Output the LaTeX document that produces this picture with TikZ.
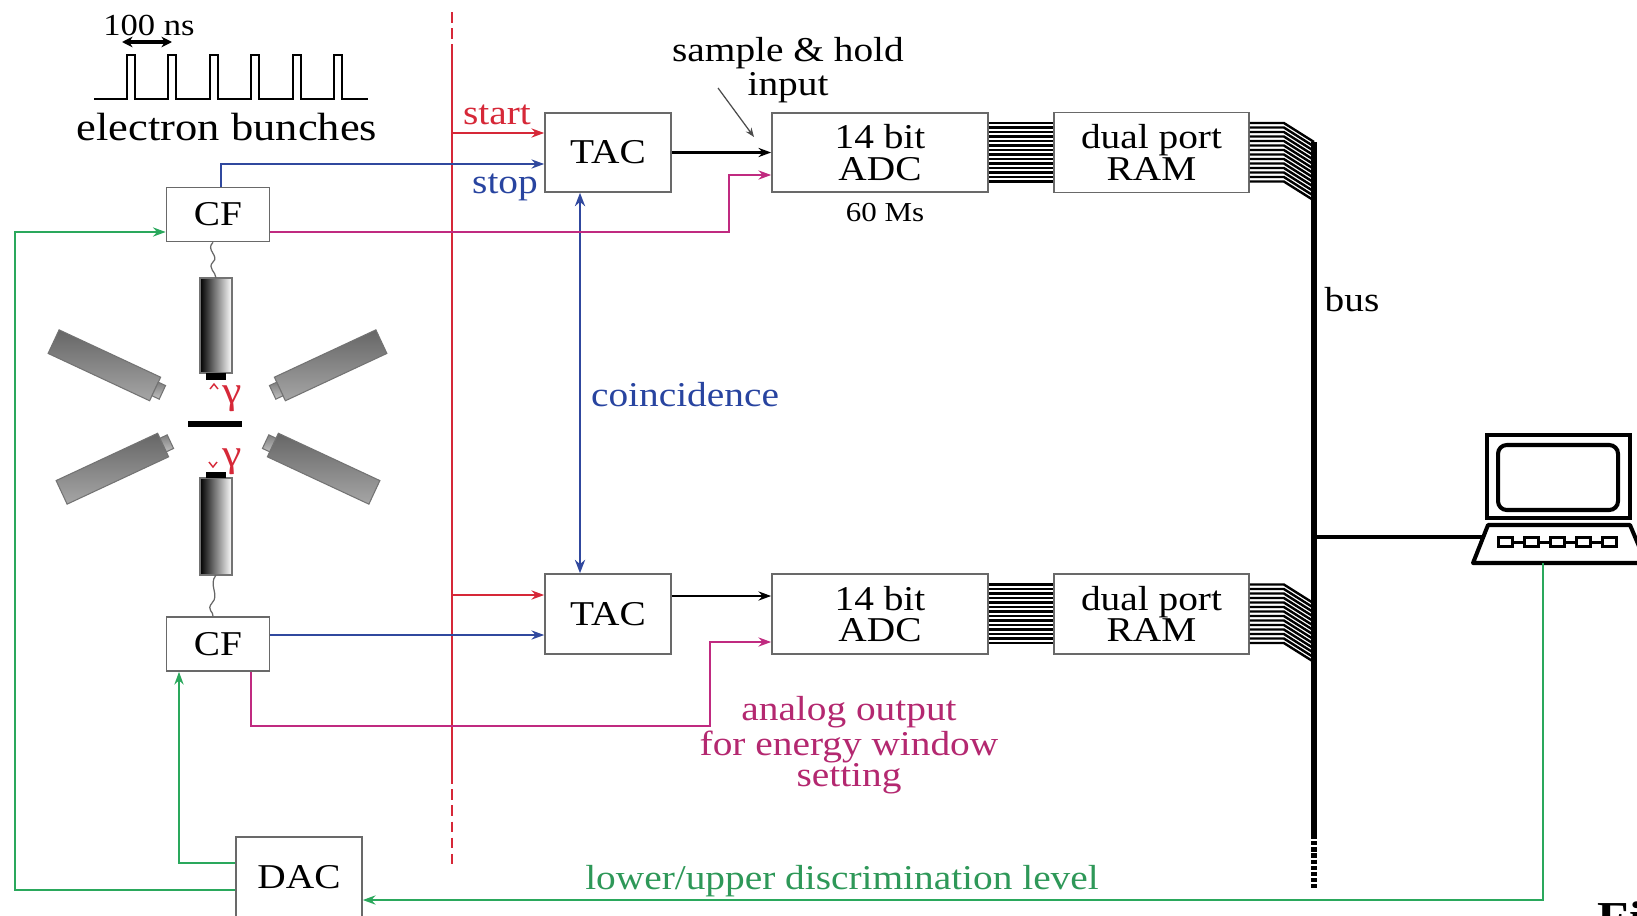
\documentclass[tikz,border=0pt]{standalone}
\usepackage{fontspec}
\setmainfont{Liberation Serif}[FakeStretch=1.13]
\usetikzlibrary{arrows.meta}

\definecolor{sigred}{RGB}{214,40,56}
\definecolor{sigblue}{RGB}{48,72,158}
\definecolor{sigmag}{RGB}{192,42,128}
\definecolor{siggreen}{RGB}{42,168,92}
\definecolor{boxgray}{RGB}{105,105,105}
\definecolor{txtblue}{RGB}{40,68,160}
\definecolor{txtmag}{RGB}{180,40,112}
\definecolor{txtgreen}{RGB}{46,152,88}

\tikzset{
  angdet/.pic={
    \shade[top color=black!60, bottom color=black!35, draw=black!55, line width=0.3pt]
      (-60,-13) rectangle (52,13);
    \shade[top color=black!50, bottom color=black!25, draw=black!55, line width=0.3pt]
      (52,-7.5) rectangle (60,7.5);
  }
}

\begin{document}
\begin{tikzpicture}[x=0.01cm, y=-0.01cm,
  every node/.style={inner sep=0pt},
  lab/.style={font=\fontsize{9.9}{9}\selectfont},
  unit/.style={draw=boxgray, line width=0.45pt, fill=white, align=center,
               font=\fontsize{9.9}{8.9}\selectfont},
  tip/.style={-{Stealth[length=3.6pt,width=2.6pt]}},
  redline/.style={draw=sigred, line width=0.8pt},
  redsig/.style={draw=sigred, line width=0.6pt},
  bluesig/.style={draw=sigblue, line width=0.55pt},
  magsig/.style={draw=sigmag, line width=0.55pt},
  greensig/.style={draw=siggreen, line width=0.65pt},
  blacksig/.style={draw=black, line width=0.65pt},
  ribbon/.style={draw=black, line width=0.68pt},
  pcline/.style={draw=black, line width=1.15pt}
]
\useasboundingbox (0,0) rectangle (1637,915);
\fill[white] (0,0) rectangle (1637,915);

% ---- bunch structure of the beam ----
\draw[line width=0.5pt] (94,99) -- (127,99) -- (127,55) -- (135,55) -- (135,99)
  -- (168,99) -- (168,55) -- (176,55) -- (176,99)
  -- (210,99) -- (210,55) -- (218,55) -- (218,99)
  -- (251,99) -- (251,55) -- (259,55) -- (259,99)
  -- (293,99) -- (293,55) -- (301,55) -- (301,99)
  -- (334,99) -- (334,55) -- (342,55) -- (342,99) -- (368,99);
\node[font=\fontsize{8.7}{9}\selectfont] (period) at (149,25) {100 ns};
\coordinate (pa) at (122,42);
\coordinate (pb) at (172,42);
\draw[line width=0.9pt, {Stealth[length=3pt,width=3pt]}-{Stealth[length=3pt,width=3pt]}] (pa) -- (pb);
\node[font=\fontsize{11.2}{12}\selectfont] (bunches) at (227,127) {electron bunches};

% ---- detector array around the target ----
\pic[rotate=-25]  at (108,367) {angdet};
\pic[rotate=-155] at (327,367) {angdet};
\pic[rotate=25]   at (116,467) {angdet};
\pic[rotate=155]  at (320,467) {angdet};
\shade[left color=black, right color=white, draw=black!55, line width=0.3pt] (200,278) rectangle (232,373);
\fill[black] (206,373) rectangle (226,380);
\shade[left color=black, right color=white, draw=black!55, line width=0.3pt] (200,478) rectangle (232,575);
\fill[black] (206,472) rectangle (226,478);
\fill[black] (188,421) rectangle (242,427);
\draw[sigred, line width=0.4pt] (210,389) -- (214,384) -- (218,389);
\draw[sigred, line width=0.4pt] (209,462) -- (213,467) -- (217,462);
\node[text=sigred, font=\fontsize{11}{11}\selectfont] (gup) at (232,399) {γ};
\node[text=sigred, font=\fontsize{11}{11}\selectfont] (gdn) at (232,462) {γ};

% ---- electronics units ----
\node[unit, minimum width=1.03cm, minimum height=0.54cm] (CF1) at (218,214.5) {CF};
\node[unit, minimum width=1.03cm, minimum height=0.54cm] (CF2) at (218,644) {CF};
\node[unit, minimum width=1.26cm, minimum height=0.79cm] (TAC1) at (608,152.5) {TAC};
\node[unit, minimum width=1.26cm, minimum height=0.80cm] (TAC2) at (608,614) {TAC};
\node[unit, minimum width=2.16cm, minimum height=0.79cm] (ADC1) at (880,152.5) {14 bit\\ADC};
\node[unit, minimum width=2.16cm, minimum height=0.80cm] (ADC2) at (880,614) {14 bit\\ADC};
\node[unit, minimum width=1.95cm, minimum height=0.80cm] (RAM1) at (1151.5,152.5) {dual port\\RAM};
\node[unit, minimum width=1.95cm, minimum height=0.80cm] (RAM2) at (1151.5,614) {dual port\\RAM};
\node[unit, minimum width=1.26cm, minimum height=0.80cm] (DAC) at (299,877) {DAC};

% detector cables
\draw[black!60, line width=0.35pt] (CF1.south -| 213,0) .. controls (205,250) and (220,256) .. (213,262)
  .. controls (207,268) and (216,272) .. (216,278);
\draw[black!60, line width=0.35pt] (216,575) .. controls (208,585) and (220,595) .. (212,603)
  .. controls (206,610) and (214,612) .. (CF2.north -| 213,0);

% ---- start line from the accelerator ----
\coordinate (Rtop) at (452,12);
\coordinate (Ra) at (452,47);
\coordinate (Rb) at (452,773);
\coordinate (Rbot) at (452,865);
\draw[redline, dash pattern=on 3pt off 1.6pt] (Rtop) -- (Ra);
\draw[redline] (Ra) -- (Rb);
\draw[redline, dash pattern=on 3pt off 1.6pt] (Rb) -- (Rbot);
\coordinate (S1) at (452,133);
\coordinate (S2) at (452,595);
\draw[redsig, tip] (S1) -- (S1 -| TAC1.west);
\draw[redsig, tip] (S2) -- (S2 -| TAC2.west);
\node[lab, text=sigred] (startlab) at (497,115) {start};

% ---- stop signals ----
\draw[bluesig, tip] (CF1.north -| 221,0) |- (TAC1.west |- 0,164);
\draw[bluesig, tip] (CF2.east |- 0,635) -- (TAC2.west |- 0,635);
\node[lab, text=txtblue] (stoplab) at (505,187) {stop};

% ---- coincidence ----
\draw[draw=sigblue, line width=0.8pt, {Stealth[length=3.8pt,width=2.9pt]}-{Stealth[length=3.8pt,width=2.9pt]}]
  (TAC1.south -| 580,0) -- (TAC2.north -| 580,0);
\node[lab, text=txtblue] (coinc) at (685,395) {coincidence};

% ---- TAC to ADC ----
\draw[blacksig, tip] (TAC1.east) -- (ADC1.west |- TAC1.east);
\draw[blacksig, tip] (TAC2.east |- 0,596) -- (ADC2.west |- 0,596);

% ---- analog outputs for the energy window ----
\draw[magsig, tip] (CF1.east |- 0,232) -| (729,175) -- (ADC1.west |- 0,175);
\draw[magsig, tip] (CF2.south -| 251,0) |- (710,726) |- (ADC2.west |- 0,642);
\node[align=center, text=txtmag, font=\fontsize{9.9}{8.8}\selectfont] (analog) at (849,745)
  {analog output\\for energy window\\setting};

% ---- labels at the ADC ----
\node[align=center, font=\fontsize{9.9}{9.5}\selectfont] (SH) at (788,70) {sample \& hold\\input};
\coordinate (SHa) at (718,88);
\coordinate (SHb) at (754,137);
\draw[black!70, line width=0.35pt, -{Stealth[length=2.6pt,width=2pt]}] (SHa) -- (SHb);
\node[font=\fontsize{7.8}{8}\selectfont] (rate) at (885,213) {60 Ms};

% ---- data ribbons and bus ----
\coordinate (BusTop) at (1314,142);
\coordinate (BusMid) at (1314,835);
\coordinate (BusBot) at (1314,889);
\foreach \i in {0,...,13}{
  \pgfmathsetmacro{\ya}{123+4.5*\i}
  \pgfmathsetmacro{\yb}{\ya+19}
  \pgfmathsetmacro{\yc}{\ya+461.5}
  \pgfmathsetmacro{\yd}{\yc+19}
  \draw[ribbon] (ADC1.east |- 0,\ya) -- (RAM1.west |- 0,\ya);
  \draw[ribbon] (RAM1.east |- 0,\ya) -- ++(34,0) -- (BusTop |- 0,\yb);
  \draw[ribbon] (ADC2.east |- 0,\yc) -- (RAM2.west |- 0,\yc);
  \draw[ribbon] (RAM2.east |- 0,\yc) -- ++(34,0) -- (BusTop |- 0,\yd);
}
\draw[line width=1.85pt] (BusTop) -- (BusMid);
\draw[line width=1.85pt, dash pattern=on 1.2pt off 0.55pt] (BusMid) -- (BusBot);
\node[lab] (buslab) at (1352,300) {bus};

% ---- computer ----
\draw[pcline] (1487,435) rectangle (1630,518);
\draw[pcline, rounded corners=2.5pt] (1498,445) rectangle (1618,510);
\draw[pcline, line join=round] (1488,525) -- (1630,525) -- (1646,563) -- (1473,563) -- cycle;
\foreach \k in {0,...,4}{
  \draw[line width=0.85pt] (1498+26*\k,537.5) rectangle (1512+26*\k,546.5);
}
\foreach \k in {0,...,3}{
  \draw[line width=0.85pt] (1512+26*\k,542) -- (1524+26*\k,542);
}
\coordinate (PCin) at (1483,537);
\coordinate (PCout) at (1543,563);
\draw[line width=0.95pt] (BusTop |- PCin) -- (PCin);

% ---- discriminator levels ----
\draw[greensig, tip] (PCout) |- (DAC.east |- 0,900);
\draw[greensig, tip] (DAC.west |- 0,890) -| (15,232) -- (CF1.west |- 0,232);
\draw[greensig, tip] (DAC.west |- 0,863) -| (CF2.south -| 179,0);
\node[lab, text=txtgreen] (levels) at (842,881) {lower/upper discrimination level};

% caption start at the lower edge
\node[anchor=north west, font=\fontsize{13}{13}\bfseries\selectfont] (fig) at (1597,901) {Fi};
\end{tikzpicture}
\end{document}
